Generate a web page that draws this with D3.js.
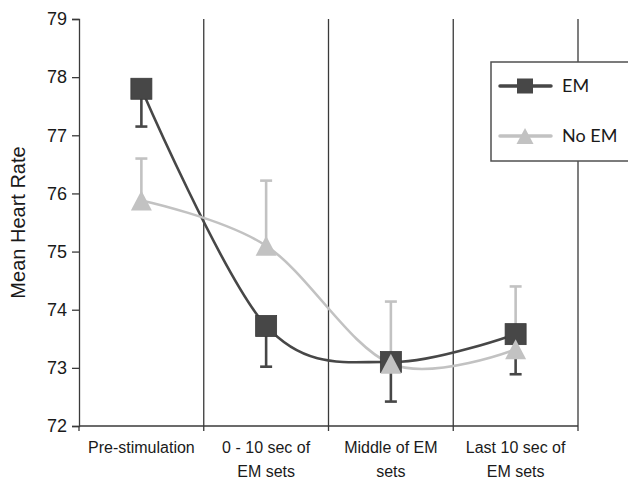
<!DOCTYPE html>
<html>
<head>
<meta charset="utf-8">
<script src="https://cdn.jsdelivr.net/npm/d3@7"></script>
<style>
  body { margin: 0; background: #fff; }
  text { font-family: "Liberation Sans", Arial, sans-serif; fill: #1a1a1a; }
  .legend text { font-family: Lato, "Open Sans", sans-serif; }
</style>
</head>
<body>
<div id="chart"></div>
<script>
var categories = ["Pre-stimulation", "0 - 10 sec of EM sets", "Middle of EM sets", "Last 10 sec of EM sets"];
var categoryLines = [["Pre-stimulation"], ["0 - 10 sec of", "EM sets"], ["Middle of EM", "sets"], ["Last 10 sec of", "EM sets"]];
var yTicks = [72, 73, 74, 75, 76, 77, 78, 79];

// EM: mean and lower error bar end
var emMean = [77.8, 73.72, 73.1, 73.58];
var emLow = [77.15, 73.02, 72.42, 72.89];
// No EM: mean and upper error bar end
var noEmMean = [75.88, 75.1, 73.07, 73.32];
var noEmHigh = [76.6, 76.22, 74.14, 74.4];

var W = 628, H = 482;
var darkCol = "#474747", lightCol = "#c2c2c2", axisCol = "#3a3a3a";

var svg = d3.select("#chart").append("svg").attr("width", W).attr("height", H);

var x = d3.scaleBand().domain(categories).range([79, 578]);
var y = d3.scaleLinear().domain([72, 79]).range([426, 19]);
var cx = function(i){ return x(categories[i]) + x.bandwidth()/2; };

// vertical category dividers
svg.append("g").selectAll("line")
    .data(categories)
    .enter().append("line")
    .attr("x1", function(d){ return x(d) + x.bandwidth(); })
    .attr("x2", function(d){ return x(d) + x.bandwidth(); })
    .attr("y1", y(79)).attr("y2", y(72))
    .attr("stroke", axisCol).attr("stroke-width", 1.3);

// y axis
var yAxis = svg.append("g").attr("transform", "translate(79,0)")
    .call(d3.axisLeft(y).tickValues(yTicks).tickSize(7).tickPadding(5).tickFormat(d3.format("d")));
yAxis.select(".domain").attr("stroke", axisCol).attr("stroke-width", 1.3);
yAxis.selectAll(".tick line").attr("stroke", axisCol).attr("stroke-width", 1.3);
yAxis.selectAll(".tick text").style("font-size", "18px").attr("fill", "#1a1a1a")
    .style("font-family", "'Liberation Sans', Arial, sans-serif");

// x axis
var xAxis = svg.append("g").attr("transform", "translate(0," + y(72) + ")");
xAxis.append("line").attr("x1", x.range()[0]).attr("x2", x.range()[1])
    .attr("stroke", axisCol).attr("stroke-width", 1.3);
xAxis.selectAll(".xt")
    .data([x.range()[0]].concat(categories.map(function(d){ return x(d) + x.bandwidth(); })))
    .enter().append("line")
    .attr("x1", function(d){ return d; }).attr("x2", function(d){ return d; })
    .attr("y1", 0).attr("y2", 5)
    .attr("stroke", axisCol).attr("stroke-width", 1.3);
xAxis.selectAll(".xl")
    .data(categoryLines)
    .enter().append("text")
    .attr("text-anchor", "middle")
    .style("font-size", "16px")
    .attr("transform", function(d, i){ return "translate(" + cx(i) + ",0)"; })
    .each(function(lines){
        var t = d3.select(this);
        lines.forEach(function(l, j){
            t.append("tspan").attr("x", 0).attr("y", 27 + j*24).text(l);
        });
    });

// y axis title
svg.append("text")
    .attr("transform", "translate(25," + ((y(72) + y(79))/2) + ") rotate(-90)")
    .attr("text-anchor", "middle")
    .style("font-size", "20px")
    .text("Mean Heart Rate");

var curve = d3.curveCardinal.tension(0);
var line = d3.line().x(function(d, i){ return cx(i); }).y(function(d){ return y(d); }).curve(curve);

// error bars
function errorBars(means, ends, col){
    var g = svg.append("g");
    g.selectAll(".v").data(means).enter().append("line")
        .attr("x1", function(d, i){ return cx(i); }).attr("x2", function(d, i){ return cx(i); })
        .attr("y1", function(d){ return y(d); }).attr("y2", function(d, i){ return y(ends[i]); })
        .attr("stroke", col).attr("stroke-width", 2.6);
    g.selectAll(".c").data(ends).enter().append("line")
        .attr("x1", function(d, i){ return cx(i) - 6; }).attr("x2", function(d, i){ return cx(i) + 6; })
        .attr("y1", function(d){ return y(d); }).attr("y2", function(d){ return y(d); })
        .attr("stroke", col).attr("stroke-width", 2.6);
}
errorBars(noEmMean, noEmHigh, lightCol);
errorBars(emMean, emLow, darkCol);

svg.append("path").datum(emMean).attr("d", line)
    .attr("fill", "none").attr("stroke", darkCol).attr("stroke-width", 2.6);
svg.append("path").datum(noEmMean).attr("d", line)
    .attr("fill", "none").attr("stroke", lightCol).attr("stroke-width", 2.6);

var sq = 21;
svg.append("g").selectAll("rect").data(emMean).enter().append("rect")
    .attr("x", function(d, i){ return cx(i) - sq/2; })
    .attr("y", function(d){ return y(d) - sq/2; })
    .attr("width", sq).attr("height", sq)
    .attr("fill", darkCol).attr("stroke", "#3a3a3a").attr("stroke-width", 0.8);

function triPath(px, py, w, h){
    return "M" + px + "," + (py - h/2) + "L" + (px + w/2) + "," + (py + h/2) + "L" + (px - w/2) + "," + (py + h/2) + "Z";
}
svg.append("g").selectAll("path").data(noEmMean).enter().append("path")
    .attr("d", function(d, i){ return triPath(cx(i), y(d), 21, 20); })
    .attr("fill", lightCol);

// legend
var lg = svg.append("g").attr("class", "legend");
lg.append("rect").attr("x", 491).attr("y", 62).attr("width", 160).attr("height", 99)
    .attr("fill", "#fff").attr("stroke", "#505050").attr("stroke-width", 1.5);
var legendItems = [
    {name: "EM", col: darkCol, yy: 86, shape: "square"},
    {name: "No EM", col: lightCol, yy: 136, shape: "triangle"}
];
legendItems.forEach(function(it){
    lg.append("line").attr("x1", 500).attr("x2", 551).attr("y1", it.yy).attr("y2", it.yy)
        .attr("stroke", it.col).attr("stroke-width", 3.5).attr("stroke-linecap", "round");
    if (it.shape === "square") {
        lg.append("rect").attr("x", 517).attr("y", it.yy - 7.5).attr("width", 16).attr("height", 15).attr("fill", it.col);
    } else {
        lg.append("path").attr("d", triPath(525, it.yy, 17, 16)).attr("fill", it.col);
    }
    lg.append("text").attr("x", 562).attr("y", it.yy + 6).style("font-size", "18px").text(it.name);
});
</script>
</body>
</html>
